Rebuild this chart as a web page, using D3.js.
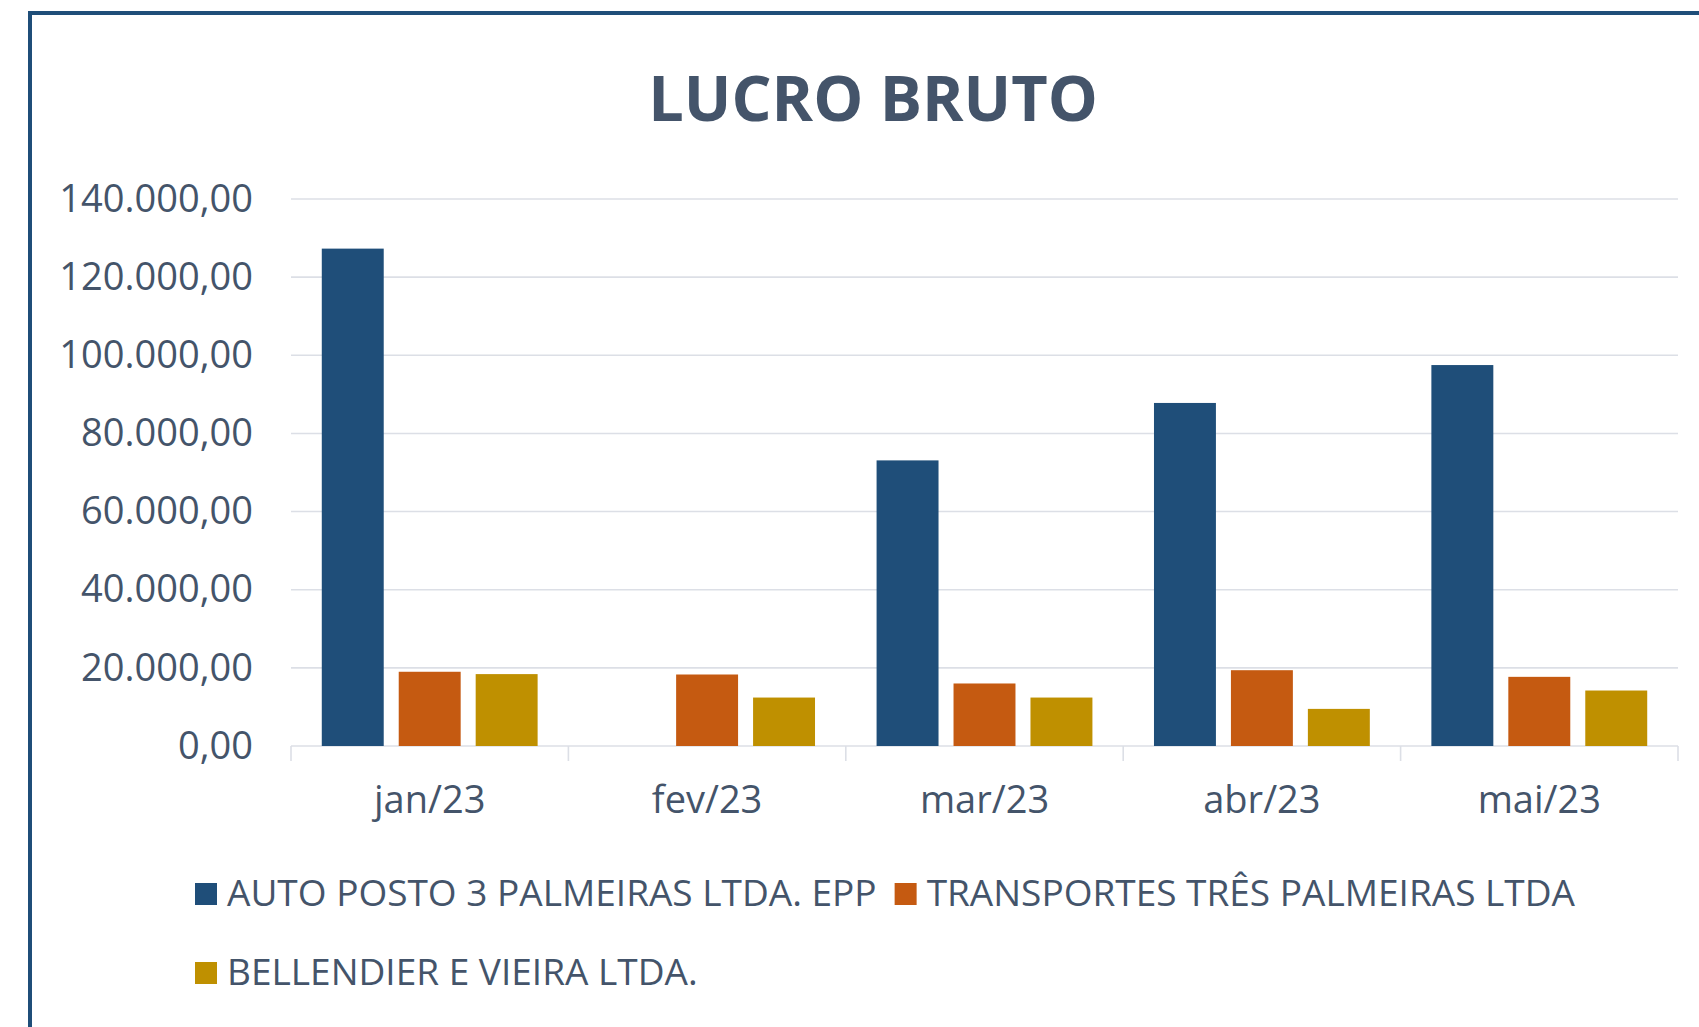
<!DOCTYPE html>
<html>
<head>
<meta charset="utf-8">
<script src="https://cdn.jsdelivr.net/npm/d3@7"></script>
<style>
  body { margin: 0; background: #fff; overflow: hidden; }
  text { font-family: "Open Sans", sans-serif; fill: #44546a; }
</style>
</head>
<body>
<div id="chart"></div>
<script>
// months on the x axis
const months = ['jan/23', 'fev/23', 'mar/23', 'abr/23', 'mai/23']

// the three companies (legend order)
const companies = [
  'AUTO POSTO 3 PALMEIRAS LTDA. EPP',
  'TRANSPORTES TRÊS PALMEIRAS LTDA',
  'BELLENDIER E VIEIRA LTDA.'
]

// lucro bruto per month
const autoPosto = [127300, 0, 73100, 87800, 97500]
const transportes = [19000, 18300, 16000, 19400, 17700]
const bellendier = [18400, 12400, 12400, 9500, 14200]

const yTicks = [0, 20000, 40000, 60000, 80000, 100000, 120000, 140000]

const colors = ['#1f4e79', '#c55a11', '#bf9000']

;(function () {
  const W = 1699
  const H = 1027
  const margin = { top: 199, right: 21, bottom: 281, left: 291 }
  const width = W - margin.left - margin.right
  const height = H - margin.top - margin.bottom

  const svg = d3.select('#chart').append('svg')
    .attr('width', W)
    .attr('height', H)

  // chart frame, runs off the right and bottom of the window
  svg.append('rect')
    .attr('x', 30)
    .attr('y', 13)
    .attr('width', W + 40)
    .attr('height', H + 40)
    .attr('fill', 'none')
    .attr('stroke', '#1f4e79')
    .attr('stroke-width', 4)

  svg.append('text')
    .attr('x', 873)
    .attr('y', 121)
    .attr('text-anchor', 'middle')
    .style('font-size', '63px')
    .style('font-weight', 700)
    .text('LUCRO BRUTO')

  const g = svg.append('g')
    .attr('transform', 'translate(' + margin.left + ',' + margin.top + ')')

  const series = [autoPosto, transportes, bellendier]
  const datapoints = months.map((m, i) => ({
    month: m,
    values: companies.map((c, j) => ({ company: c, value: series[j][i] }))
  }))

  const x0 = d3.scaleBand()
    .domain(months)
    .range([0, width])

  const x1 = d3.scaleBand()
    .domain(companies)
    .range([0, x0.bandwidth()])
    .paddingInner(0.195)
    .paddingOuter(0.4)

  const y = d3.scaleLinear()
    .domain([0, 140000])
    .range([height, 0])

  const colorScale = d3.scaleOrdinal()
    .domain(companies)
    .range(colors)

  const br = d3.formatLocale({ decimal: ',', thousands: '.', grouping: [3], currency: ['R$', ''] })
  const fmt = br.format(',.2f')

  // gridlines
  g.append('g')
    .attr('class', 'grid')
    .selectAll('line')
    .data(yTicks)
    .join('line')
    .attr('x1', 0)
    .attr('x2', width)
    .attr('y1', d => y(d))
    .attr('y2', d => y(d))
    .attr('stroke', '#dcdfe6')
    .attr('stroke-width', 1.6)

  // y labels
  const yAxis = d3.axisLeft(y)
    .tickValues(yTicks)
    .tickSize(0)
    .tickPadding(38)
    .tickFormat(fmt)
  g.append('g')
    .attr('class', 'axis y-axis')
    .call(yAxis)
    .call(ax => ax.select('.domain').remove())
    .call(ax => ax.selectAll('text')
      .style('font-size', '38px')
      .style('font-family', '"Open Sans", sans-serif')
      .attr('fill', '#44546a'))

  // category separators below the baseline
  const edges = months.map(m => x0(m)).concat([x0.range()[1]])
  g.append('g')
    .selectAll('line')
    .data(edges)
    .join('line')
    .attr('x1', d => d)
    .attr('x2', d => d)
    .attr('y1', height)
    .attr('y2', height + 15)
    .attr('stroke', '#dcdfe6')
    .attr('stroke-width', 1.6)

  // bars
  g.append('g')
    .selectAll('g')
    .data(datapoints)
    .join('g')
    .attr('transform', d => 'translate(' + x0(d.month) + ',0)')
    .selectAll('rect')
    .data(d => d.values.filter(v => v.value > 0))
    .join('rect')
    .attr('x', d => x1(d.company))
    .attr('width', x1.bandwidth())
    .attr('y', d => y(d.value))
    .attr('height', d => height - y(d.value))
    .attr('fill', d => colorScale(d.company))

  // month labels
  g.append('g')
    .selectAll('text')
    .data(months)
    .join('text')
    .attr('x', d => x0(d) + x0.bandwidth() / 2)
    .attr('y', height + 67)
    .attr('text-anchor', 'middle')
    .style('font-size', '38px')
    .text(d => d)

  // legend, wraps like the original
  const legend = svg.append('g').attr('class', 'legend')
  const rows = [[0, 1], [2]]
  const rowY = [883, 962]
  rows.forEach((row, r) => {
    let cx = 195
    row.forEach(i => {
      const item = legend.append('g')
        .attr('transform', 'translate(' + cx + ',' + rowY[r] + ')')
      item.append('rect')
        .attr('width', 22)
        .attr('height', 22)
        .attr('fill', colors[i])
      const t = item.append('text')
        .attr('x', 32)
        .attr('y', 23)
        .style('font-size', '37px')
        .text(companies[i])
      cx += 32 + t.node().getComputedTextLength() + 18
    })
  })
})()
</script>
</body>
</html>
